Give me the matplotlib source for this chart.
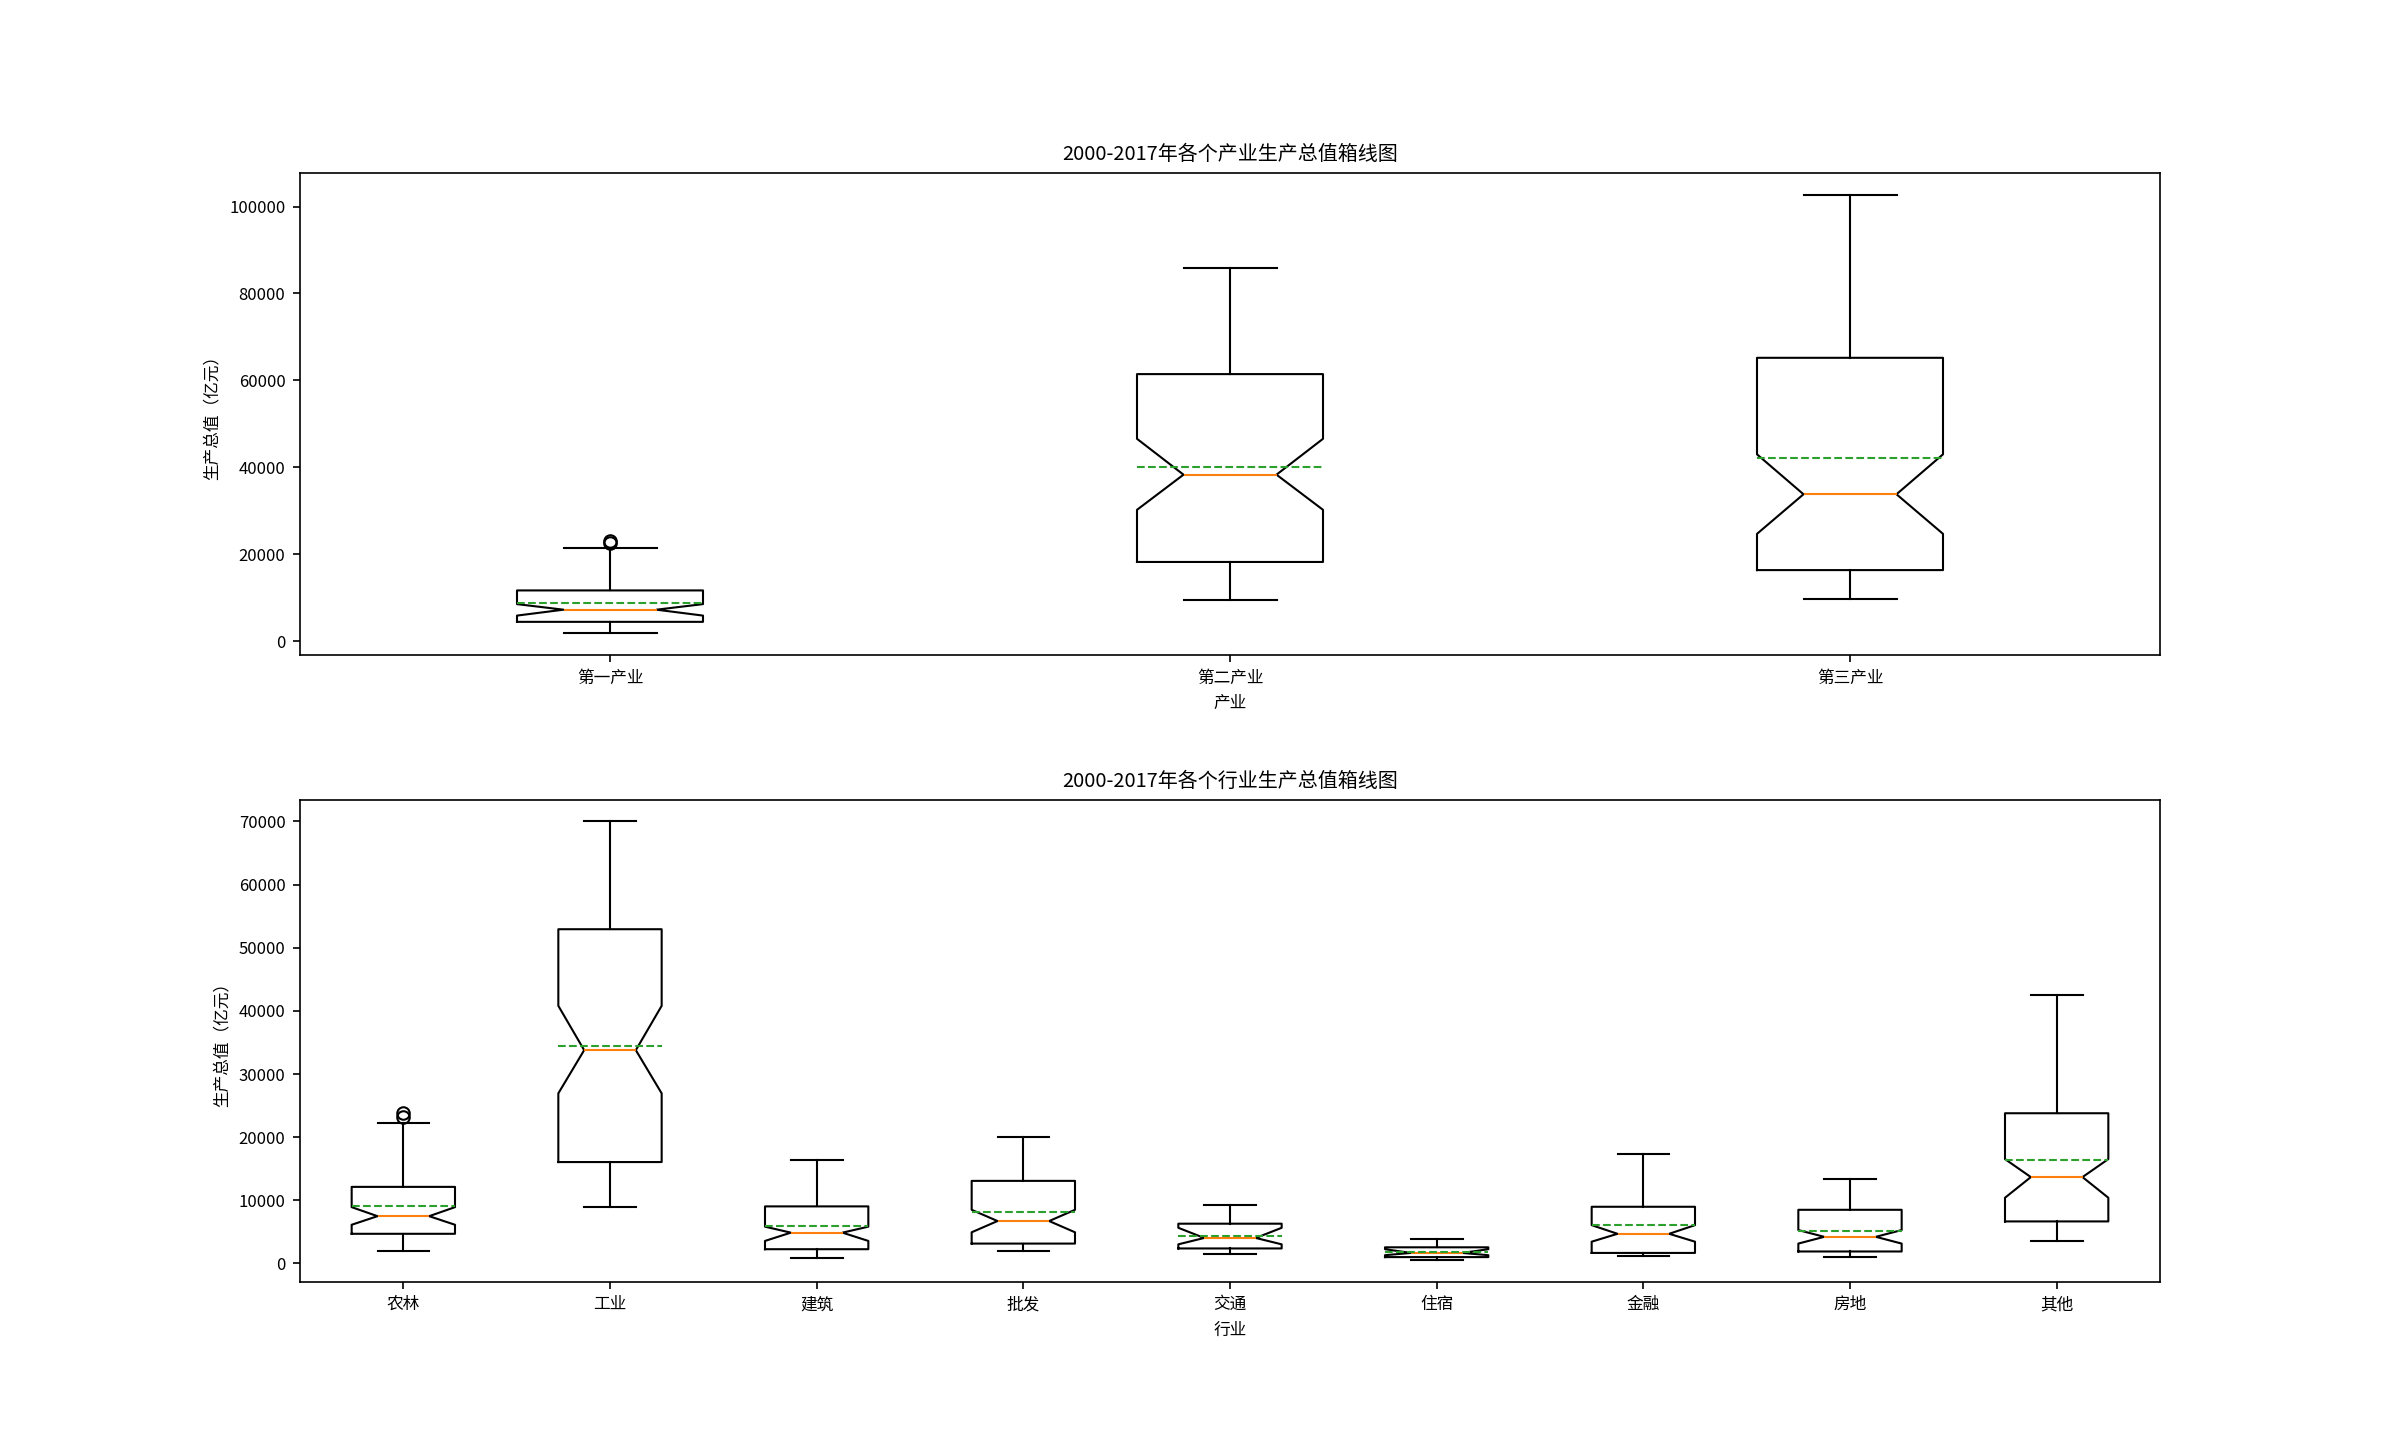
import matplotlib
matplotlib.use("Agg")
import matplotlib.pyplot as plt

plt.rcParams["font.family"] = ["Noto Sans CJK SC", "DejaVu Sans"]
plt.rcParams["font.size"] = 8
plt.rcParams["axes.unicode_minus"] = False

# 三大产业 (亿元)
sector_labels = ["第一产业", "第二产业", "第三产业"]
sector_whislo = [1870, 9530, 9700]
sector_q1 = [4430, 18210, 16340]
sector_med = [7230, 38300, 33790]
sector_q3 = [11660, 61440, 65190]
sector_whishi = [21450, 85870, 102720]
sector_mean = [8850, 40080, 42210]
sector_cilo = [5870, 30210, 24680]
sector_cihi = [8510, 46550, 42980]
sector_fliers = [[22500, 23100], [], []]

# 九个行业
industry_labels = ["农林", "工业", "建筑", "批发", "交通", "住宿", "金融", "房地", "其他"]
industry_whislo = [1960, 8920, 890, 1960, 1550, 600, 1190, 1070, 3570]
industry_q1 = [4700, 16060, 2260, 3150, 2380, 1010, 1670, 1900, 6660]
industry_med = [7490, 33780, 4880, 6720, 4040, 1670, 4700, 4220, 13680]
industry_q3 = [12130, 52930, 9040, 13080, 6300, 2560, 8980, 8500, 23790]
industry_whishi = [22240, 70000, 16350, 20040, 9280, 3870, 17310, 13380, 42580]
industry_mean = [9040, 34490, 5890, 8150, 4340, 1840, 6070, 5170, 16410]
industry_cilo = [6130, 26940, 3570, 4940, 3030, 1310, 3450, 3150, 10410]
industry_cihi = [8920, 40800, 5830, 8500, 5650, 2260, 6070, 5290, 16530]
industry_fliers = [[23200, 23800], [], [], [], [], [], [], [], []]


def make_stats(labels, whislo, q1, med, q3, whishi, mean, cilo, cihi, fliers):
    stats = []
    for i, name in enumerate(labels):
        stats.append({"label": name, "whislo": whislo[i], "q1": q1[i], "med": med[i],
                      "q3": q3[i], "whishi": whishi[i], "mean": mean[i],
                      "cilo": cilo[i], "cihi": cihi[i], "fliers": fliers[i]})
    return stats


fig, (ax1, ax2) = plt.subplots(2, 1, figsize=(16, 9.6), dpi=150)
fig.subplots_adjust(hspace=0.3)

ax1.bxp(make_stats(sector_labels, sector_whislo, sector_q1, sector_med, sector_q3,
                   sector_whishi, sector_mean, sector_cilo, sector_cihi, sector_fliers),
        widths=0.3, shownotches=True, showmeans=True, meanline=True)
ax1.set_title("2000-2017年各个产业生产总值箱线图")
ax1.set_xlabel("产业")
ax1.set_ylabel("生产总值（亿元）")

ax2.bxp(make_stats(industry_labels, industry_whislo, industry_q1, industry_med, industry_q3,
                   industry_whishi, industry_mean, industry_cilo, industry_cihi, industry_fliers),
        widths=0.5, shownotches=True, showmeans=True, meanline=True)
ax2.set_title("2000-2017年各个行业生产总值箱线图")
ax2.set_xlabel("行业")
ax2.set_ylabel("生产总值（亿元）")

fig.savefig("out.png", dpi=150)
plt.close(fig)
